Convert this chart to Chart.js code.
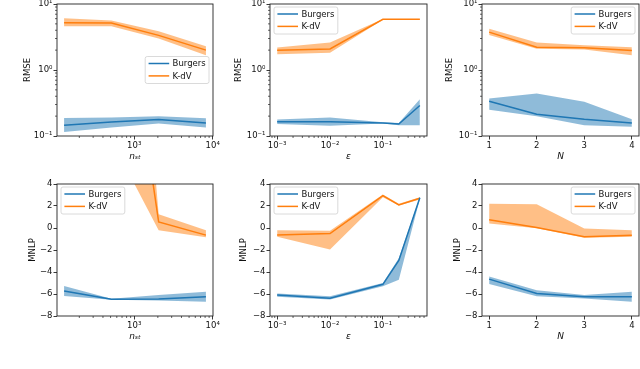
<!DOCTYPE html>
<html>
<head>
<meta charset="utf-8">
<script src="https://cdn.jsdelivr.net/npm/chart.js@4"></script>
<style>
  body { margin: 0; width: 640px; height: 369px; overflow: hidden; background: #fff; position: relative; }
  canvas { position: absolute; }
</style>
</head>
<body>
<script>
// x values
const nst = [128, 512, 2048, 8192];
const eps = [0.001, 0.01, 0.1, 0.2, 0.5];
const nOrd = [1, 2, 3, 4];

// RMSE vs n_st
const rmseNstB   = [0.145, 0.163, 0.178, 0.157];
const rmseNstBLo = [0.115, 0.135, 0.155, 0.135];
const rmseNstBHi = [0.187, 0.19, 0.2, 0.185];
const rmseNstK   = [5.2, 5.15, 3.35, 2.0];
const rmseNstKLo = [4.6, 4.6, 3.0, 1.67];
const rmseNstKHi = [6.1, 5.6, 3.85, 2.3];

// RMSE vs epsilon
const rmseEpsB   = [0.165, 0.165, 0.158, 0.152, 0.29];
const rmseEpsBLo = [0.152, 0.143, 0.155, 0.146, 0.145];
const rmseEpsBHi = [0.178, 0.19, 0.162, 0.157, 0.36];
const rmseEpsK   = [2.0, 2.08, 5.85, 5.85, 5.85];
const rmseEpsKLo = [1.73, 1.83, 5.75, 5.75, 5.75];
const rmseEpsKHi = [2.2, 2.6, 5.95, 5.95, 5.95];

// RMSE vs N
const rmseNB   = [0.335, 0.213, 0.179, 0.158];
const rmseNBLo = [0.25, 0.2, 0.145, 0.138];
const rmseNBHi = [0.37, 0.44, 0.33, 0.18];
const rmseNK   = [3.75, 2.22, 2.18, 1.98];
const rmseNKLo = [3.4, 2.1, 2.05, 1.68];
const rmseNKHi = [4.2, 2.6, 2.38, 2.22];

// MNLP vs n_st
const mnlpNstB   = [-5.73, -6.48, -6.45, -6.24];
const mnlpNstBLo = [-6.18, -6.53, -6.6, -6.7];
const mnlpNstBHi = [-5.27, -6.43, -6.1, -5.8];
const mnlpNstK   = [35, 30, 0.55, -0.65];
const mnlpNstKLo = [22, 8, -0.2, -0.85];
const mnlpNstKHi = [48, 52, 1.25, -0.2];

// MNLP vs epsilon
const mnlpEpsB   = [-6.09, -6.38, -5.12, -2.95, 2.75];
const mnlpEpsBLo = [-6.25, -6.5, -5.3, -4.7, 2.65];
const mnlpEpsBHi = [-5.95, -6.2, -5.0, -2.75, 2.85];
const mnlpEpsK   = [-0.64, -0.5, 2.95, 2.1, 2.7];
const mnlpEpsKLo = [-0.8, -1.95, 2.8, 2.05, 2.6];
const mnlpEpsKHi = [-0.2, -0.25, 3.05, 2.2, 2.8];

// MNLP vs N
const mnlpNB   = [-4.65, -5.95, -6.25, -6.25];
const mnlpNBLo = [-5.1, -6.2, -6.4, -6.7];
const mnlpNBHi = [-4.4, -5.65, -6.1, -5.8];
const mnlpNK   = [0.75, 0.05, -0.8, -0.65];
const mnlpNKLo = [0.4, -0.02, -0.88, -0.8];
const mnlpNKHi = [2.2, 2.15, -0.05, -0.2];

const BLUE = '#1f77b4', ORANGE = '#ff7f0e';
const FONT = 'DejaVu Sans';
const FS = 8.5;

const supMap = { '-': '\u207B', '0': '\u2070', '1': '\u00B9', '2': '\u00B2', '3': '\u00B3', '4': '\u2074' };
function pow10(v) {
  return '10' + String(Math.round(Math.log10(v))).split('').map(c => supMap[c]).join('');
}
function minus(v) {
  return v < 0 ? '\u2212' + Math.abs(v) : String(v);
}

// frame, log minor ticks and legend box
const framePlugin = {
  id: 'frame',
  afterDraw(chart, args, opts) {
    const { ctx, chartArea: a } = chart;
    ctx.save();
    ctx.strokeStyle = '#222';
    ctx.lineWidth = 0.9;
    ctx.strokeRect(a.left, a.top, a.right - a.left, a.bottom - a.top);

    Object.values(chart.scales).forEach(s => {
      if (s.type !== 'logarithmic') return;
      const lo = Math.floor(Math.log10(s.min)), hi = Math.ceil(Math.log10(s.max));
      ctx.lineWidth = 0.7;
      for (let e = lo; e < hi; e++) {
        for (let m = 2; m < 10; m++) {
          const v = m * Math.pow(10, e);
          if (v < s.min || v > s.max) continue;
          const p = s.getPixelForValue(v);
          ctx.beginPath();
          if (s.isHorizontal()) { ctx.moveTo(p, a.bottom); ctx.lineTo(p, a.bottom + 2); }
          else { ctx.moveTo(a.left, p); ctx.lineTo(a.left - 2, p); }
          ctx.stroke();
        }
      }
    });

    // legend
    const items = chart.data.datasets.filter(d => d.isMean);
    ctx.font = FS + 'px "' + FONT + '"';
    const tw = Math.max(...items.map(d => ctx.measureText(d.label).width));
    const w = 3.4 + 20.6 + 3.4 + tw + 3.3, h = 27;
    let bx, by;
    if (opts.pos === 'ul') { bx = a.left + 4; by = a.top + 3; }
    else if (opts.pos === 'ur') { bx = a.right - 4 - w; by = a.top + 3; }
    else { bx = a.right - 4 - w; by = (a.top + a.bottom) / 2 - h / 2; }
    ctx.fillStyle = 'rgba(255,255,255,0.8)';
    ctx.strokeStyle = '#d0d0d0';
    ctx.lineWidth = 0.8;
    ctx.beginPath();
    ctx.roundRect(bx, by, w, h, 2);
    ctx.fill();
    ctx.stroke();
    items.forEach((d, i) => {
      const yy = by + 7 + i * 12.4;
      ctx.strokeStyle = d.borderColor;
      ctx.lineWidth = 1.5;
      ctx.beginPath();
      ctx.moveTo(bx + 3.4, yy);
      ctx.lineTo(bx + 24, yy);
      ctx.stroke();
      ctx.fillStyle = '#111';
      ctx.textBaseline = 'middle';
      ctx.fillText(d.label, bx + 27.4, yy + 0.5);
    });
    ctx.restore();
  }
};

function pts(xs, ys) {
  return xs.map((x, i) => ({ x: x, y: ys[i] }));
}

function makeChart(p) {
  const A = 50, padR = 12, padT = 8, HX = 34;
  const L = p.box[0], R = p.box[1], T = p.box[2], B = p.box[3];
  const x0 = L - A, y0 = T - padT;
  const cv = document.createElement('canvas');
  cv.width = Math.round(R - x0 + padR);
  cv.height = Math.round(B - y0 + HX);
  cv.style.left = x0 + 'px';
  cv.style.top = y0 + 'px';
  document.body.appendChild(cv);

  const ds = [];
  p.series.forEach(s => {
    ds.push({ label: s.label, isMean: true, data: pts(p.xs, s.mean), borderColor: s.color,
      borderWidth: 1.5, pointRadius: 0, fill: false, tension: 0 });
  });
  p.series.forEach(s => {
    ds.push({ label: s.label + ' hi', data: pts(p.xs, s.hi), borderWidth: 0, pointRadius: 0,
      fill: '+1', backgroundColor: s.band, borderColor: 'transparent' });
    ds.push({ label: s.label + ' lo', data: pts(p.xs, s.lo), borderWidth: 0, pointRadius: 0,
      fill: false, borderColor: 'transparent' });
  });

  const tickFont = { family: FONT, size: FS };
  const zeroPad = s => { s.paddingLeft = 0; s.paddingRight = 0; s.paddingTop = 0; s.paddingBottom = 0; };

  const xScale = Object.assign({
    grid: { display: true, drawOnChartArea: false, drawTicks: true, tickLength: 3.5, tickColor: '#222', tickWidth: 0.9 },
    border: { display: false },
    ticks: { font: tickFont, color: '#111', padding: 1.5, maxRotation: 0, autoSkip: false,
      callback: p.xLabel },
    title: { display: true, text: p.xTitle, font: { family: FONT, size: FS + 0.5, style: 'italic' }, color: '#111',
      padding: { top: 0, bottom: HX - 21 - 5.4 } },
    afterBuildTicks: s => { s.ticks = p.xTicks.map(v => ({ value: v })); },
    afterFit: s => { s.height = HX; zeroPad(s); }
  }, p.xScale);

  const yScale = Object.assign({
    grid: { display: true, drawOnChartArea: false, drawTicks: true, tickLength: 3.5, tickColor: '#222', tickWidth: 0.9 },
    border: { display: false },
    ticks: { font: tickFont, color: '#111', padding: 1, autoSkip: false, callback: p.yLabel },
    title: { display: true, text: p.yTitle, font: { family: FONT, size: FS }, color: '#111',
      padding: { top: A - p.yOff - 5.1, bottom: 0 } },
    afterBuildTicks: s => { s.ticks = p.yTicks.map(v => ({ value: v })); },
    afterFit: s => { s.width = A; zeroPad(s); }
  }, p.yScale);

  new Chart(cv, {
    type: 'line',
    data: { datasets: ds },
    options: {
      responsive: false,
      animation: false,
      devicePixelRatio: 1,
      layout: { padding: { left: 0, right: padR, top: padT, bottom: 0 } },
      scales: { x: xScale, y: yScale },
      plugins: { legend: { display: false }, tooltip: { enabled: false }, frame: { pos: p.legend } }
    },
    plugins: [framePlugin]
  });
}

const bandB = 'rgba(31,119,180,0.5)', bandK = 'rgba(255,127,14,0.5)';
function ser(label, color, band, mean, lo, hi) {
  return { label, color, band, mean, lo, hi };
}

const logRmse = { type: 'logarithmic', min: 0.1, max: 10 };
const linMnlp = { type: 'linear', min: -8, max: 4 };
const logNst = { type: 'logarithmic', min: Math.pow(10, 2.0167), max: Math.pow(10, 4.0036) };
const logEps = { type: 'logarithmic', min: Math.pow(10, -3.135), max: Math.pow(10, -0.166) };
const linN = { type: 'linear', min: 0.85, max: 4.15 };
const nstTitle = 'n\u209B\u209C';

const panels = [
  { box: [57, 213, 4, 136], xs: nst, xScale: logNst, xTicks: [1000, 10000], xLabel: pow10, xTitle: nstTitle,
    yScale: logRmse, yTicks: [0.1, 1, 10], yLabel: pow10, yTitle: 'RMSE', yOff: 29, legend: 'cr',
    series: [ser('Burgers', BLUE, bandB, rmseNstB, rmseNstBLo, rmseNstBHi),
             ser('K-dV', ORANGE, bandK, rmseNstK, rmseNstKLo, rmseNstKHi)] },
  { box: [269.5, 426, 4, 136], xs: eps, xScale: logEps, xTicks: [0.001, 0.01, 0.1], xLabel: pow10, xTitle: '\u03B5',
    yScale: logRmse, yTicks: [0.1, 1, 10], yLabel: pow10, yTitle: 'RMSE', yOff: 31, legend: 'ul',
    series: [ser('Burgers', BLUE, bandB, rmseEpsB, rmseEpsBLo, rmseEpsBHi),
             ser('K-dV', ORANGE, bandK, rmseEpsK, rmseEpsKLo, rmseEpsKHi)] },
  { box: [482, 639, 4, 136], xs: nOrd, xScale: linN, xTicks: [1, 2, 3, 4], xLabel: v => String(v), xTitle: 'N',
    yScale: logRmse, yTicks: [0.1, 1, 10], yLabel: pow10, yTitle: 'RMSE', yOff: 32.7, legend: 'ur',
    series: [ser('Burgers', BLUE, bandB, rmseNB, rmseNBLo, rmseNBHi),
             ser('K-dV', ORANGE, bandK, rmseNK, rmseNKLo, rmseNKHi)] },
  { box: [57, 213, 184, 316], xs: nst, xScale: logNst, xTicks: [1000, 10000], xLabel: pow10, xTitle: nstTitle,
    yScale: linMnlp, yTicks: [-8, -6, -4, -2, 0, 2, 4], yLabel: minus, yTitle: 'MNLP', yOff: 24, legend: 'ul',
    series: [ser('Burgers', BLUE, bandB, mnlpNstB, mnlpNstBLo, mnlpNstBHi),
             ser('K-dV', ORANGE, bandK, mnlpNstK, mnlpNstKLo, mnlpNstKHi)] },
  { box: [269.5, 426, 184, 316], xs: eps, xScale: logEps, xTicks: [0.001, 0.01, 0.1], xLabel: pow10, xTitle: '\u03B5',
    yScale: linMnlp, yTicks: [-8, -6, -4, -2, 0, 2, 4], yLabel: minus, yTitle: 'MNLP', yOff: 26, legend: 'ul',
    series: [ser('Burgers', BLUE, bandB, mnlpEpsB, mnlpEpsBLo, mnlpEpsBHi),
             ser('K-dV', ORANGE, bandK, mnlpEpsK, mnlpEpsKLo, mnlpEpsKHi)] },
  { box: [482, 639, 184, 316], xs: nOrd, xScale: linN, xTicks: [1, 2, 3, 4], xLabel: v => String(v), xTitle: 'N',
    yScale: linMnlp, yTicks: [-8, -6, -4, -2, 0, 2, 4], yLabel: minus, yTitle: 'MNLP', yOff: 24.7, legend: 'ur',
    series: [ser('Burgers', BLUE, bandB, mnlpNB, mnlpNBLo, mnlpNBHi),
             ser('K-dV', ORANGE, bandK, mnlpNK, mnlpNKLo, mnlpNKHi)] }
];

panels.forEach(makeChart);
</script>
</body>
</html>
